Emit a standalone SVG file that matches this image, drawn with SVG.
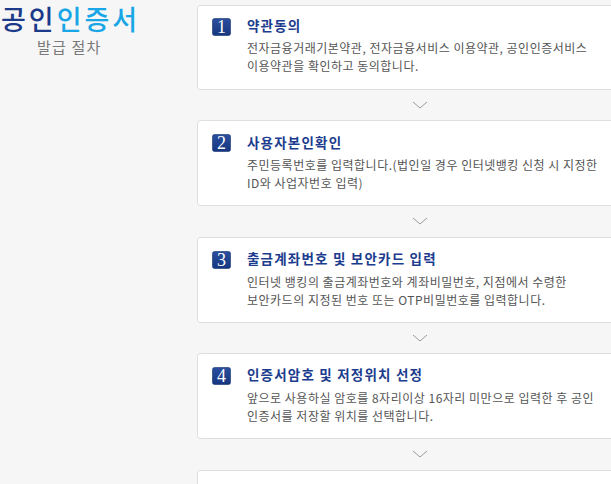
<svg xmlns="http://www.w3.org/2000/svg" width="611" height="484" viewBox="0 0 611 484">
<defs>
<linearGradient id="bg" x1="0" y1="0" x2="0" y2="1"><stop offset="0" stop-color="#2b4f9e"/><stop offset="1" stop-color="#16377f"/></linearGradient>
<style>
.box{fill:#fff;stroke:#dedede;stroke-width:1}
.badge{fill:url(#bg);stroke:#10306e;stroke-width:0.6}
.num{font-family:"Liberation Serif",serif;font-size:18px;fill:#fff;text-anchor:middle}
.ttl{font-family:"Noto Sans CJK KR","Noto Sans",sans-serif;font-size:13.5px;font-weight:bold;fill:#1c3c8e;letter-spacing:1.2px}
.body{font-family:"Noto Sans CJK KR","Noto Sans",sans-serif;font-size:12px;fill:#555;letter-spacing:0.5px}
.chev{fill:none;stroke:#9a9a9a;stroke-width:1}
</style>
</defs>
<rect width="611" height="484" fill="#f6f6f6"/>
<g id="header">
<text x="1" y="30" font-family="Noto Sans CJK KR, sans-serif" font-size="27" font-weight="500" letter-spacing="3"><tspan fill="#1b3a89">공인</tspan><tspan fill="#19a6e6">인증서</tspan></text>
<text x="37" y="53" font-family="Noto Sans CJK KR, sans-serif" font-size="15" fill="#7a7a7a" letter-spacing="1.2">발급 절차</text>
</g>
<g id="step1">
<rect class="box" x="197.5" y="5.5" width="430" height="84" rx="3"/>
<rect class="badge" x="212.5" y="18.5" width="18" height="17" rx="2"/>
<text class="num" x="221.5" y="33">1</text>
<text class="ttl" x="247" y="31">약관동의</text>
<text class="body" x="247" y="53">전자금융거래기본약관, 전자금융서비스 이용약관, 공인인증서비스</text>
<text class="body" x="247" y="71">이용약관을 확인하고 동의합니다.</text>
</g>
<g id="step2">
<rect class="box" x="197.5" y="120.5" width="430" height="85" rx="3"/>
<rect class="badge" x="212.5" y="134.5" width="18" height="17" rx="2"/>
<text class="num" x="221.5" y="149">2</text>
<text class="ttl" x="247" y="148">사용자본인확인</text>
<text class="body" x="247" y="170">주민등록번호를 입력합니다.(법인일 경우 인터넷뱅킹 신청 시 지정한</text>
<text class="body" x="247" y="188">ID와 사업자번호 입력)</text>
</g>
<g id="step3">
<rect class="box" x="197.5" y="237.5" width="430" height="85" rx="3"/>
<rect class="badge" x="212.5" y="251.5" width="18" height="17" rx="2"/>
<text class="num" x="221.5" y="266">3</text>
<text class="ttl" x="247" y="264">출금계좌번호 및 보안카드 입력</text>
<text class="body" x="247" y="287">인터넷 뱅킹의 출금계좌번호와 계좌비밀번호, 지점에서 수령한</text>
<text class="body" x="247" y="305">보안카드의 지정된 번호 또는 OTP비밀번호를 입력합니다.</text>
</g>
<g id="step4">
<rect class="box" x="197.5" y="353.5" width="430" height="85" rx="3"/>
<rect class="badge" x="212.5" y="367.5" width="18" height="17" rx="2"/>
<text class="num" x="221.5" y="382">4</text>
<text class="ttl" x="247" y="380">인증서암호 및 저정위치 선정</text>
<text class="body" x="247" y="403">앞으로 사용하실 암호를 8자리이상 16자리 미만으로 입력한 후 공인</text>
<text class="body" x="247" y="421">인증서를 저장할 위치를 선택합니다.</text>
</g>
<g id="step5">
<rect class="box" x="197.5" y="470.5" width="430" height="40" rx="3"/>
<rect class="badge" x="212.5" y="484.5" width="18" height="17" rx="2"/>
</g>
<g id="connectors">
<path class="chev" d="M413 102 L420 108 L427 102"/>
<path class="chev" d="M413 218 L420 224 L427 218"/>
<path class="chev" d="M413 335 L420 341 L427 335"/>
<path class="chev" d="M413 451 L420 457 L427 451"/>
</g>
</svg>
